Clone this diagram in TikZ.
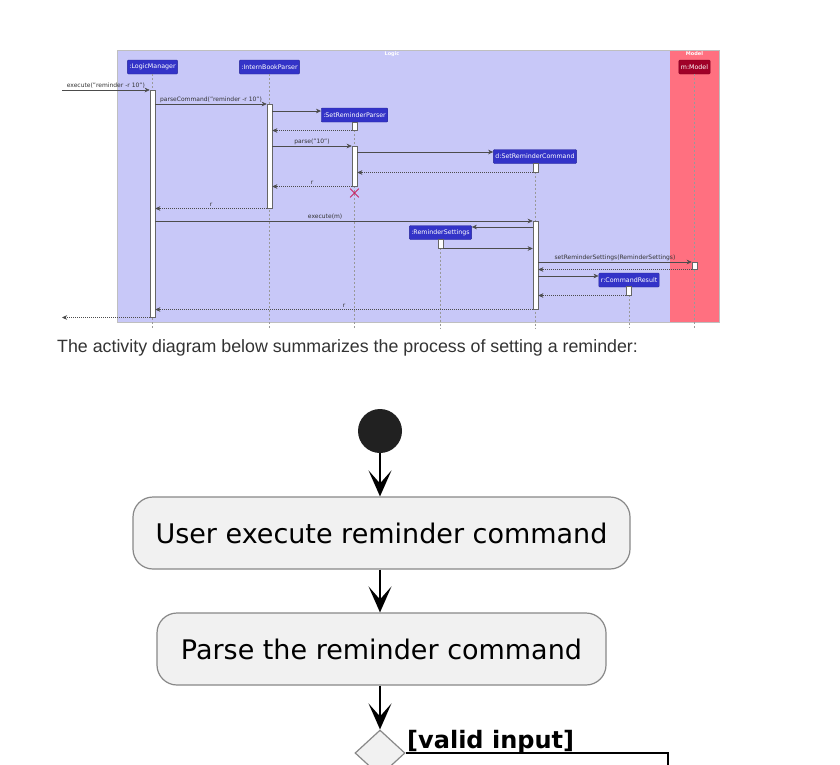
\documentclass[tikz,border=0pt]{standalone}
\usepackage{fontspec}
\setmainfont{DejaVu Sans}
\newfontfamily\docfont{Liberation Sans}
\usetikzlibrary{arrows.meta,shapes.geometric,shapes.misc}

\definecolor{logicbg}{RGB}{200,200,248}
\definecolor{modelbg}{RGB}{255,112,128}
\definecolor{partblue}{RGB}{51,51,200}
\definecolor{partred}{RGB}{160,0,40}
\definecolor{killred}{RGB}{200,40,100}
\definecolor{actfill}{RGB}{241,241,241}
\definecolor{actline}{RGB}{136,136,136}

\begin{document}
\begin{tikzpicture}[x=1pt, y=-1pt,
  part/.style={fill=partblue, draw=partblue!75!black, text=white, font=\fontsize{6.3}{7}\selectfont, inner xsep=2pt, inner ysep=0pt, minimum height=14pt, rounded corners=1pt},
  bar/.style={draw=black!60, fill=white, minimum width=5pt, inner sep=0pt, anchor=north, line width=0.5pt},
  life/.style={draw=black!40, dash pattern=on 2pt off 2pt, line width=0.5pt},
  msg/.style={draw=black!70, line width=0.5pt, -{Stealth[length=5pt,width=4.5pt,inset=1.5pt]}},
  ret/.style={msg, dash pattern=on 1pt off 1pt},
  lbl/.style={font=\fontsize{6}{7}\selectfont, text=black!80, inner sep=0pt, above=1.5pt},
  act/.style={draw=actline, fill=actfill, line width=1.2pt, rounded corners=20pt, font=\fontsize{27}{31}\selectfont},
  flow/.style={line width=1.5pt, -{Stealth[length=26pt,width=23pt,inset=13pt]}}
]
\useasboundingbox (0,0) rectangle (840,764);
\fill[white] (0,0) rectangle (840,764);

% Sequence diagram: frames
\fill[logicbg] (117,50) rectangle (670,322);
\fill[modelbg] (670,50) rectangle (719,322);
\draw[black!25, line width=0.5pt] (117,50) rectangle (719,322);
\node[font=\bfseries\fontsize{5}{6}\selectfont, text=white] (logictitle) at (392,54) {Logic};
\node[font=\bfseries\fontsize{5}{6}\selectfont, text=white] (modeltitle) at (694.5,54) {Model};

% participants
\node[part] (lm) at (152.5,67) {:LogicManager};
\node[part] (ibp) at (269.5,67) {:InternBookParser};
\node[part] (srp) at (354.5,115) {:SetReminderParser};
\node[part] (src) at (535,156.5) {d:SetReminderCommand};
\node[part] (rs) at (440.5,232.5) {:ReminderSettings};
\node[part] (cr) at (629,280) {r:CommandResult};
\node[part, fill=partred, draw=partred!80!black] (m) at (694.5,67) {m:Model};

% lifelines
\coordinate (lifeend) at (0,328);
\foreach \p in {lm,ibp,srp,src,rs,cr,m}
  \draw[life] (\p.south) -- (\p |- lifeend);

% activations
\node[bar, minimum height=227pt] (lmA) at (152.5,90) {};
\node[bar, minimum height=104pt] (ibpA) at (269.5,104) {};
\node[bar, minimum height=8pt] (srpA) at (354.5,122) {};
\node[bar, minimum height=40pt] (srpB) at (354.5,146) {};
\node[bar, minimum height=9pt] (srcA) at (535.5,163) {};
\node[bar, minimum height=88pt] (srcB) at (535.5,221) {};
\node[bar, minimum height=9pt] (rsA) at (440.5,239) {};
\node[bar, minimum height=7pt] (mA) at (694.5,262) {};
\node[bar, minimum height=9pt] (crA) at (628.5,286) {};
\node[cross out, draw=killred, minimum size=8pt, inner sep=0pt, line width=0.8pt] (kill) at (354.5,193) {};

% messages
\coordinate (caller) at (62,90);
\draw[msg] (caller) -- (lmA.north west) node[lbl, midway] (m1) {execute("reminder -r 10")};
\draw[msg] (lmA.east |- 0,104) -- (ibpA.north west) node[lbl, midway] (m2) {parseCommand("reminder -r 10")};
\draw[msg] (ibpA.east |- 0,111) -- (srp.west |- 0,111);
\draw[ret] (srpA.south west) -- (ibpA.east |- srpA.south);
\draw[msg] (ibpA.east |- srpB.north) -- (srpB.north west) node[lbl, midway] (m5) {parse("10")};
\draw[msg] (srpB.east |- 0,152) -- (src.west |- 0,152);
\draw[ret] (srcA.south west) -- (srpB.east |- srcA.south);
\draw[ret] (srpB.south west) -- (ibpA.east |- srpB.south) node[lbl, midway] (m8) {r};
\draw[ret] (ibpA.south west) -- (lmA.east |- ibpA.south) node[lbl, midway] (m9) {r};
\draw[msg] (lmA.east |- srcB.north) -- (srcB.north west) node[lbl, pos=0.45] (m10) {execute(m)};
\draw[msg] (srcB.west |- 0,227) -- (rs.east |- 0,227);
\draw[msg] (rsA.south east) -- (srcB.west |- rsA.south);
\draw[msg] (srcB.east |- mA.north) -- (mA.north west) node[lbl, midway] (m13) {setReminderSettings(ReminderSettings)};
\draw[ret] (mA.south west) -- (srcB.east |- mA.south);
\draw[msg] (srcB.east |- 0,276) -- (cr.west |- 0,276);
\draw[ret] (crA.south west) -- (srcB.east |- crA.south);
\draw[ret] (srcB.south west) -- (lmA.east |- srcB.south) node[lbl, midway] (m17) {r};
\draw[ret] (lmA.south west) -- (caller |- lmA.south);

% text between the diagrams
\node[anchor=base west, font=\docfont\fontsize{17.8}{20}\selectfont, text=black!80, inner sep=0pt] (intro) at (57,352) {The activity diagram below summarizes the process of setting a reminder:};

% Activity diagram
\node[circle, fill=black!87, minimum size=44pt, inner sep=0pt] (start) at (380,431) {};
\node[act, minimum width=497pt, minimum height=72pt] (exec) at (381.5,533) {User execute reminder command};
\node[act, minimum width=449pt, minimum height=72pt] (parse) at (381.5,649) {Parse the reminder command};
\node[diamond, draw=actline, fill=actfill, line width=1.2pt, minimum width=50pt, minimum height=46pt, inner sep=0pt] (valid) at (380,753) {};
\draw[flow] (start) -- (start |- exec.north);
\draw[flow] (start |- exec.south) -- (start |- parse.north);
\draw[flow] (start |- parse.south) -- (valid.north);
\coordinate (branch) at (668,775);
\draw[line width=1.5pt] (valid.east) -- (branch |- valid.east) -- (branch);
\node[anchor=base west, font=\bfseries\fontsize{24}{28}\selectfont, inner sep=0pt] (validlbl) at (407,748) {[valid input]};
\end{tikzpicture}
\end{document}
